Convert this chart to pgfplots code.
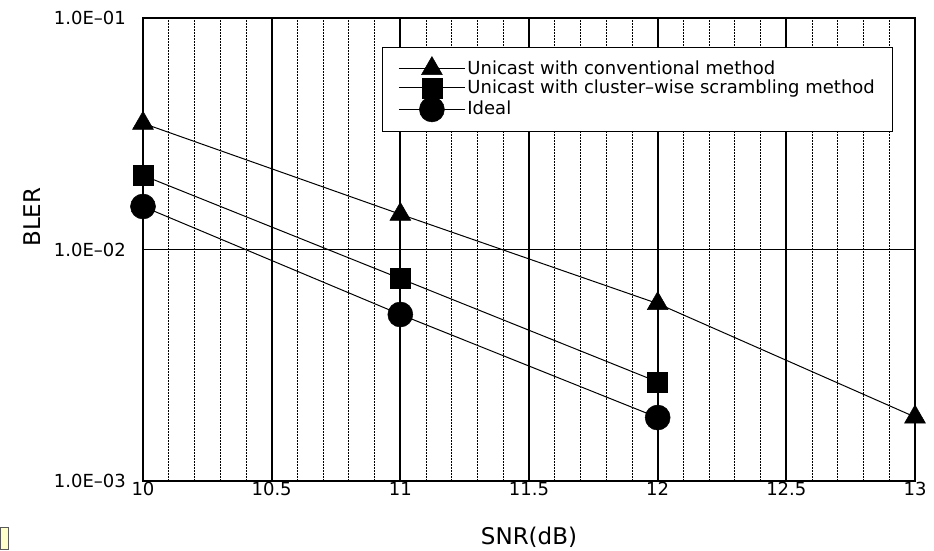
\documentclass[border=0pt]{standalone}
\usepackage{fontspec}
\setmainfont{DejaVu Sans}
\usepackage{pgfplots}
\pgfplotsset{compat=1.18}

\begin{document}
\fontsize{17}{20}\selectfont
\begin{tikzpicture}
\useasboundingbox (0pt,0pt) rectangle (934pt,550pt);
\draw[gray!70!black, fill={rgb,255:red,255;green,255;blue,204}] (0.5pt,0.5pt) rectangle (8pt,23pt);
\begin{axis}[
  at={(143pt,69pt)}, anchor=south west,
  scale only axis, width=772pt, height=463pt,
  xmin=10, xmax=13,
  ymode=log, ymin=1e-3, ymax=1e-1,
  xtick={10,10.5,11,11.5,12,12.5,13},
  xticklabels={10,10.5,11,11.5,12,12.5,13},
  minor x tick num=4,
  ytick={1e-3,1e-2,1e-1},
  yticklabels={1.0E–03,1.0E–02,1.0E–01},
  major tick length=0pt, minor tick length=0pt,
  xmajorgrids=true, xminorgrids=true, ymajorgrids=true, yminorgrids=false,
  major grid style={black, line width=1.8pt},
  minor grid style={black, line width=0.8pt, dash pattern=on 1.6pt off 1.4pt},
  axis line style={line width=1.8pt},
  /pgf/number format/assume math mode=true,
  xticklabel style={inner sep=1pt, font=\fontsize{18}{20}\selectfont},
  yticklabel style={inner sep=0pt, xshift=-17pt, font=\fontsize{18}{20}\selectfont},
  xlabel={SNR(dB)},
  xlabel style={at={(axis description cs:0.5,-0.121)}, anchor=center, font=\fontsize{23}{26}\selectfont},
  ylabel={BLER},
  ylabel style={at={(axis description cs:-0.1438,0.57)}, anchor=center, font=\fontsize{23}{26}\selectfont},
  legend cell align=left,
  legend style={at={(axis description cs:0.3096,0.937)}, anchor=north west,
    draw=black, line width=0.8pt, fill=white,
    font=\fontsize{18}{20}\selectfont,
    inner xsep=16pt, inner ysep=9pt, row sep=-1pt,
    nodes={inner sep=2pt}},
  legend image code/.code={\draw[mark repeat=2,mark phase=2] plot coordinates {(0pt,0pt) (33pt,0pt) (66pt,0pt)};},
  every axis plot/.append style={black, line width=1pt},
]
\addplot[mark=triangle*, mark size=12pt, mark options={solid, line width=0.5pt}]
  coordinates {(10,0.0351) (11,0.0142) (12,0.00584) (13,0.00189)};
\addplot[mark=square*, mark size=10pt, mark options={solid, line width=0.5pt}]
  coordinates {(10,0.0209) (11,0.00749) (12,0.00268)};
\addplot[mark=*, mark size=12.5pt, mark options={solid, line width=0.5pt}]
  coordinates {(10,0.01534) (11,0.00524) (12,0.00188)};
\legend{Unicast with conventional method, Unicast with cluster–wise scrambling method, Ideal}
\end{axis}
\end{tikzpicture}
\end{document}
